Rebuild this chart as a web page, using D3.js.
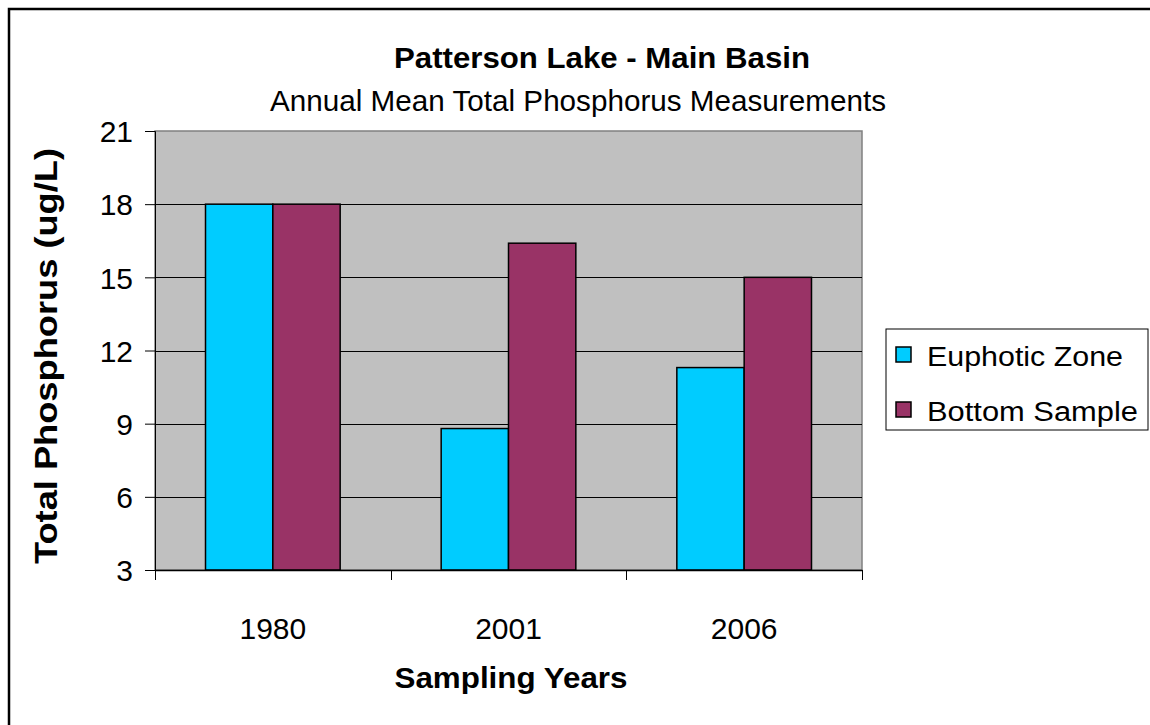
<!DOCTYPE html>
<html>
<head>
<meta charset="utf-8">
<script src="https://cdn.jsdelivr.net/npm/d3@7"></script>
<style>
  body { margin: 0; background: #fff; }
  text { font-family: Arial, "Liberation Sans", sans-serif; fill: #000; }
</style>
</head>
<body>
<script>
// data
var years = ["1980", "2001", "2006"];
var euphotic = [18, 8.8, 11.3];
var bottom = [18, 16.4, 15.0];
var seriesNames = ["Euphotic Zone", "Bottom Sample"];
var seriesColors = ["#00CCFF", "#993366"];
var yTicks = [3, 6, 9, 12, 15, 18, 21];

var W = 1150, H = 725;
var plot = {left: 155, top: 131, right: 862, bottom: 570};

var svg = d3.select("body").append("svg")
    .attr("width", W)
    .attr("height", H);

// outer chart border (runs off the right and bottom)
svg.append("rect")
    .attr("x", 9).attr("y", 9)
    .attr("width", W + 20).attr("height", H + 20)
    .attr("fill", "#fff")
    .attr("stroke", "#000")
    .attr("stroke-width", 2.5);

var x0 = d3.scaleBand()
    .domain(years)
    .range([plot.left, plot.right])
    .paddingInner(0)
    .paddingOuter(0);

// excel style gap width 150%: bars take 2/3.5 of category
var x1 = d3.scaleBand()
    .domain(seriesNames)
    .range([0, x0.bandwidth()])
    .paddingInner(0)
    .paddingOuter(0.75);

var y = d3.scaleLinear()
    .domain([3, 21])
    .range([plot.bottom, plot.top]);

// plot area
svg.append("rect")
    .attr("x", plot.left).attr("y", plot.top)
    .attr("width", plot.right - plot.left)
    .attr("height", plot.bottom - plot.top)
    .attr("fill", "#C0C0C0")
    .attr("stroke", "#808080")
    .attr("stroke-width", 1.5);

// gridlines
svg.append("g")
    .selectAll("line")
    .data(yTicks.slice(1, -1))
    .enter().append("line")
    .attr("x1", plot.left).attr("x2", plot.right)
    .attr("y1", function(d) { return Math.round(y(d)) + 0.5; })
    .attr("y2", function(d) { return Math.round(y(d)) + 0.5; })
    .attr("stroke", "#000")
    .attr("stroke-width", 1);

// bars
var rows = years.map(function(yr, i) {
    return {year: yr, values: [euphotic[i], bottom[i]]};
});

var group = svg.selectAll(".grp")
    .data(rows)
    .enter().append("g")
    .attr("class", "grp")
    .attr("transform", function(d) { return "translate(" + x0(d.year) + ",0)"; });

group.selectAll("rect")
    .data(function(d) {
        return d.values.map(function(v, j) { return {name: seriesNames[j], value: v, color: seriesColors[j]}; });
    })
    .enter().append("rect")
    .attr("x", function(d) { return x1(d.name); })
    .attr("y", function(d) { return y(d.value); })
    .attr("width", x1.bandwidth())
    .attr("height", function(d) { return y(3) - y(d.value); })
    .attr("fill", function(d) { return d.color; })
    .attr("stroke", "#000")
    .attr("stroke-width", 1.5);

// y axis
var yAxis = svg.append("g")
    .attr("transform", "translate(" + plot.left + ",0)")
    .call(d3.axisLeft(y).tickValues(yTicks).tickSize(10).tickPadding(12));
yAxis.select(".domain").attr("stroke", "#000").attr("stroke-width", 1);
yAxis.selectAll(".tick line").attr("stroke", "#000");
yAxis.selectAll(".tick text")
    .style("font-size", "30px")
    .attr("dy", "0.36em");

// x axis: ticks at category boundaries
var xAxis = svg.append("g")
    .attr("transform", "translate(0," + plot.bottom + ")")
    .call(d3.axisBottom(x0).tickSize(0).tickPadding(48));
xAxis.select(".domain").attr("stroke", "#000").attr("stroke-width", 1.5);
xAxis.selectAll(".tick text").style("font-size", "30px");

var bounds = years.map(function(yr) { return x0(yr); }).concat([plot.right]);
xAxis.selectAll(".bound")
    .data(bounds)
    .enter().append("line")
    .attr("class", "bound")
    .attr("x1", function(d) { return Math.round(d) + 0.5; })
    .attr("x2", function(d) { return Math.round(d) + 0.5; })
    .attr("y1", 0).attr("y2", 10)
    .attr("stroke", "#000");

// titles
svg.append("text")
    .attr("x", 602).attr("y", 68)
    .attr("text-anchor", "middle")
    .style("font-size", "30px").style("font-weight", "bold")
    .attr("textLength", 416).attr("lengthAdjust", "spacingAndGlyphs")
    .text("Patterson Lake - Main Basin");

svg.append("text")
    .attr("x", 578).attr("y", 111)
    .attr("text-anchor", "middle")
    .style("font-size", "30px")
    .attr("textLength", 616).attr("lengthAdjust", "spacingAndGlyphs")
    .text("Annual Mean Total Phosphorus Measurements");

svg.append("text")
    .attr("x", 511).attr("y", 688)
    .attr("text-anchor", "middle")
    .style("font-size", "30px").style("font-weight", "bold")
    .attr("textLength", 233).attr("lengthAdjust", "spacingAndGlyphs")
    .text("Sampling Years");

svg.append("text")
    .attr("transform", "translate(57,356) rotate(-90)")
    .attr("text-anchor", "middle")
    .style("font-size", "31px").style("font-weight", "bold")
    .attr("textLength", 416).attr("lengthAdjust", "spacingAndGlyphs")
    .text("Total Phosphorus (ug/L)");

// legend
var legend = svg.append("g").attr("transform", "translate(886,329)");
legend.append("rect")
    .attr("width", 262).attr("height", 101)
    .attr("fill", "#fff")
    .attr("stroke", "#000")
    .attr("stroke-width", 1);

var item = legend.selectAll(".item")
    .data(seriesNames)
    .enter().append("g")
    .attr("class", "item")
    .attr("transform", function(d, i) { return "translate(10," + (18 + i * 55) + ")"; });

item.append("rect")
    .attr("width", 15).attr("height", 15)
    .attr("fill", function(d, i) { return seriesColors[i]; })
    .attr("stroke", "#000")
    .attr("stroke-width", 1.5);

item.append("text")
    .attr("x", 31).attr("y", 19)
    .style("font-size", "27px")
    .attr("textLength", function(d, i) { return i === 0 ? 196 : 211; })
    .attr("lengthAdjust", "spacingAndGlyphs")
    .text(function(d) { return d; });
</script>
</body>
</html>
